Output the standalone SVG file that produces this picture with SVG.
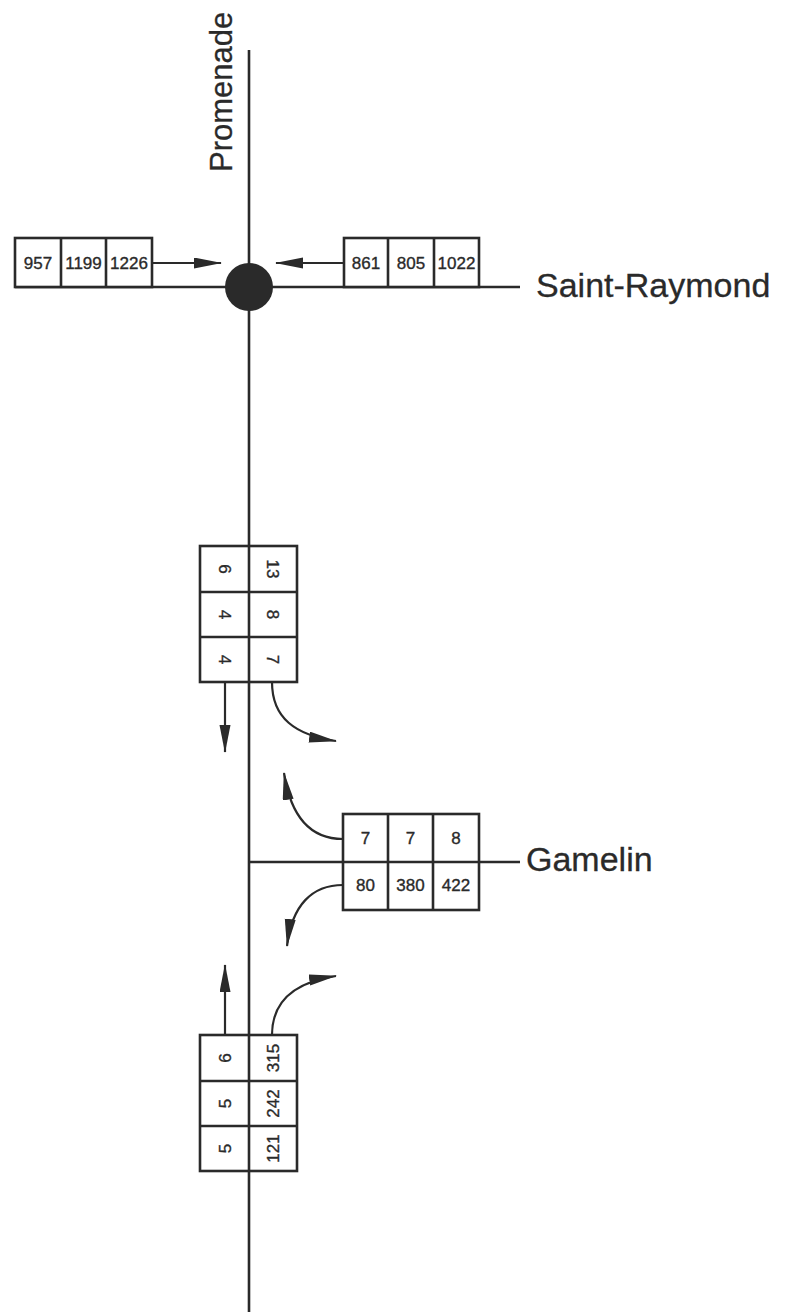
<svg xmlns="http://www.w3.org/2000/svg" width="786" height="1312" viewBox="0 0 786 1312">
  <style>
    .road { stroke: #2a2a2a; stroke-width: 2.6; fill: none; }
    .box { stroke: #2a2a2a; stroke-width: 2.6; fill: #ffffff; }
    .div { stroke: #2a2a2a; stroke-width: 2.6; }
    .arrow { stroke: #2a2a2a; stroke-width: 2.2; fill: none; marker-end: url(#head); }
    .num { font-family: "Liberation Sans", Arial, sans-serif; font-size: 17px; fill: #2a2a2a; stroke: #2a2a2a; stroke-width: 0.35; text-anchor: middle; }
    .street { font-family: "Liberation Sans", Arial, sans-serif; font-size: 34px; fill: #2a2a2a; stroke: #2a2a2a; stroke-width: 0.3; }
    .vertical { font-size: 31px; }
  </style>
  <defs>
    <marker id="head" markerUnits="userSpaceOnUse" markerWidth="30" markerHeight="12" refX="27" refY="5.5" orient="auto">
      <path d="M0,0 L28,5.5 L0,11 Z" fill="#2a2a2a"/>
    </marker>
  </defs>
  <rect width="786" height="1312" fill="#ffffff"/>

  <!-- streets -->
  <g id="streets">
    <line class="road" x1="249" y1="50" x2="249" y2="1312"/>
    <line class="road" x1="15" y1="287" x2="520" y2="287"/>
    <line class="road" x1="249" y1="862" x2="520" y2="862"/>
    <circle cx="249" cy="287" r="24" fill="#2a2a2a"/>
    <text class="street vertical" transform="translate(232,172) rotate(-90)">Promenade</text>
    <text class="street" x="536" y="297">Saint-Raymond</text>
    <text class="street" x="526" y="871">Gamelin</text>
  </g>

  <!-- west approach on Saint-Raymond -->
  <g id="west-counts">
    <rect class="box" x="15" y="238" width="137" height="49"/>
    <line class="div" x1="61" y1="238" x2="61" y2="287"/>
    <line class="div" x1="106" y1="238" x2="106" y2="287"/>
    <text class="num" x="38" y="269">957</text>
    <text class="num" x="83.5" y="269">1199</text>
    <text class="num" x="129" y="269">1226</text>
  </g>

  <!-- east approach on Saint-Raymond -->
  <g id="east-counts">
    <rect class="box" x="344" y="238" width="135" height="49"/>
    <line class="div" x1="388" y1="238" x2="388" y2="287"/>
    <line class="div" x1="434" y1="238" x2="434" y2="287"/>
    <text class="num" x="366" y="269">861</text>
    <text class="num" x="411" y="269">805</text>
    <text class="num" x="456.5" y="269">1022</text>
  </g>

  <!-- southbound counts on Promenade -->
  <g id="south-counts">
    <rect class="box" x="200" y="546" width="97" height="136"/>
    <line class="div" x1="249" y1="546" x2="249" y2="682"/>
    <line class="div" x1="200" y1="592" x2="297" y2="592"/>
    <line class="div" x1="200" y1="637" x2="297" y2="637"/>
    <text class="num" transform="translate(224.5,569) rotate(90)" y="6">6</text>
    <text class="num" transform="translate(224.5,614.5) rotate(90)" y="6">4</text>
    <text class="num" transform="translate(224.5,659.5) rotate(90)" y="6">4</text>
    <text class="num" transform="translate(273,569) rotate(90)" y="6">13</text>
    <text class="num" transform="translate(273,614.5) rotate(90)" y="6">8</text>
    <text class="num" transform="translate(273,659.5) rotate(90)" y="6">7</text>
  </g>

  <!-- Gamelin approach counts -->
  <g id="gamelin-counts">
    <rect class="box" x="343" y="814" width="136" height="96"/>
    <line class="div" x1="388" y1="814" x2="388" y2="910"/>
    <line class="div" x1="433" y1="814" x2="433" y2="910"/>
    <line class="div" x1="343" y1="862" x2="479" y2="862"/>
    <text class="num" x="365.5" y="844">7</text>
    <text class="num" x="410.5" y="844">7</text>
    <text class="num" x="456" y="844">8</text>
    <text class="num" x="365.5" y="891">80</text>
    <text class="num" x="410.5" y="891">380</text>
    <text class="num" x="456" y="891">422</text>
  </g>

  <!-- northbound counts on Promenade -->
  <g id="north-counts">
    <rect class="box" x="200" y="1035" width="97" height="136"/>
    <line class="div" x1="249" y1="1035" x2="249" y2="1171"/>
    <line class="div" x1="200" y1="1081" x2="297" y2="1081"/>
    <line class="div" x1="200" y1="1126" x2="297" y2="1126"/>
    <text class="num" transform="translate(224.5,1058) rotate(-90)" y="6">6</text>
    <text class="num" transform="translate(224.5,1103.5) rotate(-90)" y="6">5</text>
    <text class="num" transform="translate(224.5,1148.5) rotate(-90)" y="6">5</text>
    <text class="num" transform="translate(273,1058) rotate(-90)" y="6">315</text>
    <text class="num" transform="translate(273,1103.5) rotate(-90)" y="6">242</text>
    <text class="num" transform="translate(273,1148.5) rotate(-90)" y="6">121</text>
  </g>

  <!-- movement arrows -->
  <g id="connectors">
    <line class="arrow" x1="152" y1="263" x2="221" y2="263"/>
    <line class="arrow" x1="344" y1="263" x2="276" y2="263"/>
    <line class="arrow" x1="225" y1="682" x2="225" y2="752"/>
    <path class="arrow" d="M272,682 C272,718 295,735 336,741"/>
    <path class="arrow" d="M343,839 C312,839 291,818 284,773"/>
    <path class="arrow" d="M343,885 C312,885 292,905 287,946"/>
    <line class="arrow" x1="225" y1="1035" x2="225" y2="965"/>
    <path class="arrow" d="M272,1035 C272,1000 296,982 336,976"/>
  </g>
</svg>
